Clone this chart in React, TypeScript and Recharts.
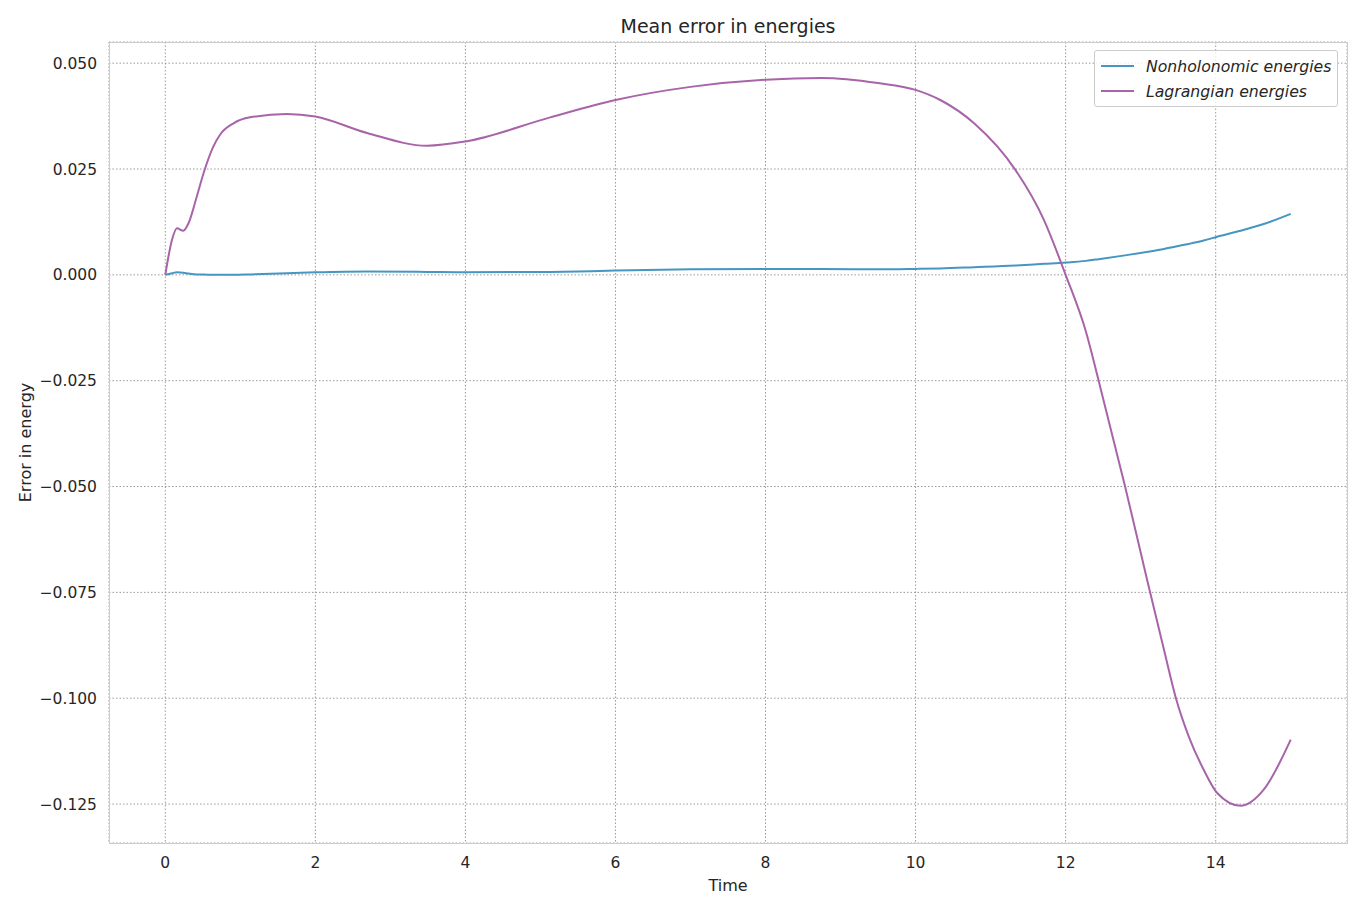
import { LineChart, Line, XAxis, YAxis, CartesianGrid } from "recharts";

const times = [
  0, 0.09, 0.156, 0.24, 0.31, 0.42, 0.51, 0.64, 0.73, 0.91, 1.13, 1.62, 2.0, 2.69, 3.49, 4.0, 5.13, 6, 7, 8,
  8.75, 9.5, 10, 10.33, 10.78, 11.33, 11.71, 12.0, 12.27, 12.44, 12.79, 13.08, 13.31, 13.47, 13.64, 13.84, 14.02,
  14.33, 14.64, 15,
];

const lagrangian = [
  0, 0.0083, 0.011, 0.0104, 0.0122, 0.0185, 0.024, 0.0303, 0.0331, 0.0358, 0.0372, 0.038, 0.0374, 0.0335, 0.0305,
  0.0315, 0.0372, 0.0413, 0.0444, 0.0461, 0.0465, 0.0453, 0.0437, 0.0413, 0.0358, 0.0248, 0.013, 0.0, -0.0134,
  -0.025, -0.0498, -0.0716, -0.0885, -0.1, -0.109, -0.1169, -0.1224, -0.1254, -0.1216, -0.1098,
];

const nonholonomic = [
  0, 0.0004, 0.0006, 0.0005, 0.0003, 0.0001, 0.0001, 0.0, 0.0, 0.0, 0.0001, 0.0004, 0.0006, 0.0008, 0.0007,
  0.0006, 0.0007, 0.001, 0.0013, 0.0014, 0.0014, 0.0013, 0.0014, 0.0015, 0.0018, 0.0022, 0.0026, 0.0029, 0.0033,
  0.0037, 0.0046, 0.0054, 0.0061, 0.0067, 0.0073, 0.0081, 0.009, 0.0104, 0.012, 0.0144,
];

const xTicks = [0, 2, 4, 6, 8, 10, 12, 14];
const yTicks = [0.05, 0.025, 0, -0.025, -0.05, -0.075, -0.1, -0.125];

const data = times.map((t, i) => ({ t, lag: lagrangian[i], non: nonholonomic[i] }));

const BLUE = "#4596c0";
const PURPLE = "#a864a8";
const TEXT = "#262626";
const FONT = "DejaVu Sans, sans-serif";

const xDomain: [number, number] = [-0.75, 15.75];
const yDomain: [number, number] = [-0.1342, 0.055];

const fmtY = (v: number) => v.toFixed(3).replace("-", "\u2212");

const App = () => {
  return (
    <div style={{ position: "absolute", left: 0, top: 0, width: 1364, height: 910, fontFamily: FONT }}>
      <div style={{ position: "absolute", left: 109, width: 1238, top: 15, textAlign: "center", fontSize: 19, color: TEXT }}>
        Mean error in energies
      </div>
      <LineChart width={1364} height={910} data={data} margin={{ top: 42, right: 17, left: 40, bottom: 0 }}>
        <CartesianGrid stroke="#999" strokeDasharray="1.5 2" />
        <XAxis
          dataKey="t"
          type="number"
          domain={xDomain}
          ticks={xTicks}
          allowDataOverflow
          height={67}
          tickLine={false}
          axisLine={false}
          tick={{ fill: TEXT, fontSize: 15.5, fontFamily: FONT }}
          tickMargin={8}
          label={{ value: "Time", position: "insideBottom", offset: 19, fill: TEXT, fontSize: 16, fontFamily: FONT }}
        />
        <YAxis
          type="number"
          domain={yDomain}
          ticks={yTicks}
          allowDataOverflow
          width={69}
          tickLine={false}
          axisLine={false}
          tickFormatter={fmtY}
          tick={{ fill: TEXT, fontSize: 15.5, fontFamily: FONT }}
          tickMargin={6}
          label={{ value: "Error in energy", angle: -90, position: "insideLeft", offset: -15, fill: TEXT, fontSize: 16, fontFamily: FONT, style: { textAnchor: "middle" } }}
        />
        <Line type="monotone" dataKey="non" stroke={BLUE} strokeWidth={2} dot={false} isAnimationActive={false} />
        <Line type="monotone" dataKey="lag" stroke={PURPLE} strokeWidth={2} dot={false} isAnimationActive={false} />
      </LineChart>
      <div
        style={{
          position: "absolute",
          left: 109,
          top: 42,
          width: 1239,
          height: 802,
          boxSizing: "border-box",
          border: "1px solid #ccc",
          pointerEvents: "none",
        }}
      />
      <div
        style={{
          position: "absolute",
          left: 1094,
          top: 50,
          width: 244,
          height: 57,
          boxSizing: "border-box",
          border: "1px solid #ccc",
          borderRadius: 3,
          background: "rgba(255,255,255,0.8)",
          fontSize: 15.7,
          fontStyle: "italic",
          color: TEXT,
        }}
      >
        {[
          { name: "Nonholonomic energies", color: BLUE },
          { name: "Lagrangian energies", color: PURPLE },
        ].map((it, i) => (
          <div key={it.name} style={{ position: "absolute", left: 6, top: 5 + i * 25, height: 20, display: "flex", alignItems: "center", whiteSpace: "nowrap" }}>
            <span style={{ display: "inline-block", width: 33, height: 2, background: it.color, marginRight: 12 }} />
            <span>{it.name}</span>
          </div>
        ))}
      </div>
    </div>
  );
};

export default App;
